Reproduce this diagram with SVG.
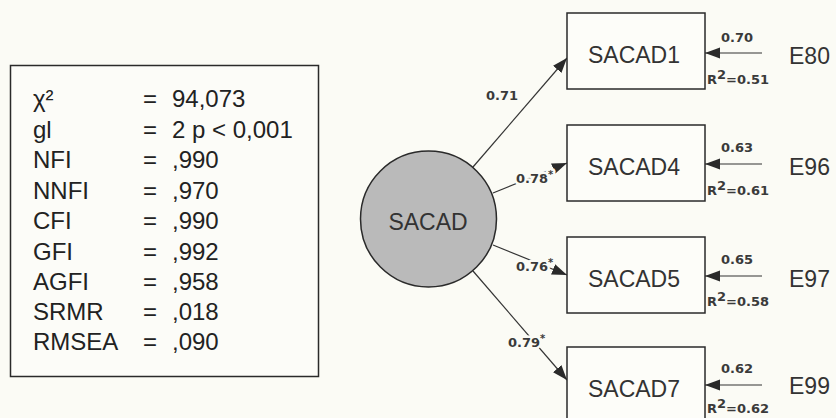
<svg xmlns="http://www.w3.org/2000/svg" width="836" height="418" viewBox="0 0 836 418">
<style>
.stat{font-family:"Liberation Sans",Arial,sans-serif;font-size:24px;fill:#222}
.node{fill:#fdfdf9;stroke:#2a2a2a;stroke-width:1.5}
.lbl{font-family:"Liberation Sans",Arial,sans-serif;font-size:23px;fill:#333}
.coef{font-family:"DejaVu Sans",sans-serif;font-size:13px;font-weight:bold;fill:#3a3a3a}
.halo{stroke:#fbfbf5;stroke-width:5;paint-order:stroke;stroke-linejoin:round}
.conn{stroke:#333;stroke-width:1.2;fill:none;marker-end:url(#ah)}
</style>
<defs>
<marker id="ah" markerUnits="userSpaceOnUse" markerWidth="16" markerHeight="12" refX="15" refY="5.5" orient="auto">
<path d="M0,0 L15,5.5 L0,11 z" fill="#2a2a2a"/>
</marker>
</defs>
<rect width="836" height="418" fill="#fbfbf5"/>

<g id="fit-indices">
<rect x="10.5" y="65.5" width="308" height="311" fill="#fcfcf8" stroke="#2a2a2a" stroke-width="1.5"/>
<text class="stat" x="33" y="107">χ²</text><text class="stat" x="143" y="107">=</text><text class="stat" x="172" y="107">94,073</text>
<text class="stat" x="33" y="137.5">gl</text><text class="stat" x="143" y="137.5">=</text><text class="stat" x="172" y="137.5">2 p &lt; 0,001</text>
<text class="stat" x="33" y="168">NFI</text><text class="stat" x="143" y="168">=</text><text class="stat" x="172" y="168">,990</text>
<text class="stat" x="33" y="198.5">NNFI</text><text class="stat" x="143" y="198.5">=</text><text class="stat" x="172" y="198.5">,970</text>
<text class="stat" x="33" y="229">CFI</text><text class="stat" x="143" y="229">=</text><text class="stat" x="172" y="229">,990</text>
<text class="stat" x="33" y="259.5">GFI</text><text class="stat" x="143" y="259.5">=</text><text class="stat" x="172" y="259.5">,992</text>
<text class="stat" x="33" y="290">AGFI</text><text class="stat" x="143" y="290">=</text><text class="stat" x="172" y="290">,958</text>
<text class="stat" x="33" y="320">SRMR</text><text class="stat" x="143" y="320">=</text><text class="stat" x="172" y="320">,018</text>
<text class="stat" x="33" y="350">RMSEA</text><text class="stat" x="143" y="350">=</text><text class="stat" x="172" y="350">,090</text>
</g>

<g id="connectors">
<line class="conn" x1="473" y1="167" x2="567" y2="58"/>
<line class="conn" x1="493" y1="193" x2="567" y2="163"/>
<line class="conn" x1="493" y1="245" x2="567" y2="275"/>
<line class="conn" x1="473" y1="271" x2="567" y2="380"/>
<line class="conn" x1="762" y1="53" x2="705" y2="53"/>
<line class="conn" x1="762" y1="164" x2="705" y2="164"/>
<line class="conn" x1="762" y1="276" x2="705" y2="276"/>
<line class="conn" x1="762" y1="385" x2="705" y2="385"/>
<text class="coef halo" x="486" y="100">0.71</text>
<text class="coef halo" x="516" y="183">0.78<tspan font-size="10" dy="-5">*</tspan></text>
<text class="coef halo" x="516" y="271">0.76<tspan font-size="10" dy="-5">*</tspan></text>
<text class="coef halo" x="508" y="347">0.79<tspan font-size="10" dy="-5">*</tspan></text>
<text class="coef" x="721" y="42">0.70</text>
<text class="coef" x="721" y="152">0.63</text>
<text class="coef" x="721" y="264">0.65</text>
<text class="coef" x="721" y="373">0.62</text>
<text class="coef" x="707" y="84">R<tspan dy="-5">2</tspan><tspan dy="5">=0.51</tspan></text>
<text class="coef" x="707" y="195">R<tspan dy="-5">2</tspan><tspan dy="5">=0.61</tspan></text>
<text class="coef" x="707" y="306">R<tspan dy="-5">2</tspan><tspan dy="5">=0.58</tspan></text>
<text class="coef" x="707" y="413">R<tspan dy="-5">2</tspan><tspan dy="5">=0.62</tspan></text>
</g>

<g id="SACAD">
<circle cx="428.5" cy="219" r="68" fill="#bababa" stroke="#2a2a2a" stroke-width="1.5"/>
<text class="lbl" x="428" y="230" text-anchor="middle">SACAD</text>
</g>
<g id="SACAD1">
<rect class="node" x="567" y="13" width="138" height="76"/>
<text class="lbl" x="634" y="63" text-anchor="middle">SACAD1</text>
</g>
<g id="SACAD4">
<rect class="node" x="567" y="125" width="138" height="76"/>
<text class="lbl" x="634" y="175" text-anchor="middle">SACAD4</text>
</g>
<g id="SACAD5">
<rect class="node" x="567" y="237" width="138" height="76"/>
<text class="lbl" x="634" y="287" text-anchor="middle">SACAD5</text>
</g>
<g id="SACAD7">
<rect class="node" x="567" y="347" width="138" height="76"/>
<text class="lbl" x="634" y="397" text-anchor="middle">SACAD7</text>
</g>
<g id="E80"><text class="lbl" x="789" y="64">E80</text></g>
<g id="E96"><text class="lbl" x="789" y="175">E96</text></g>
<g id="E97"><text class="lbl" x="789" y="287">E97</text></g>
<g id="E99"><text class="lbl" x="789" y="394">E99</text></g>
</svg>
